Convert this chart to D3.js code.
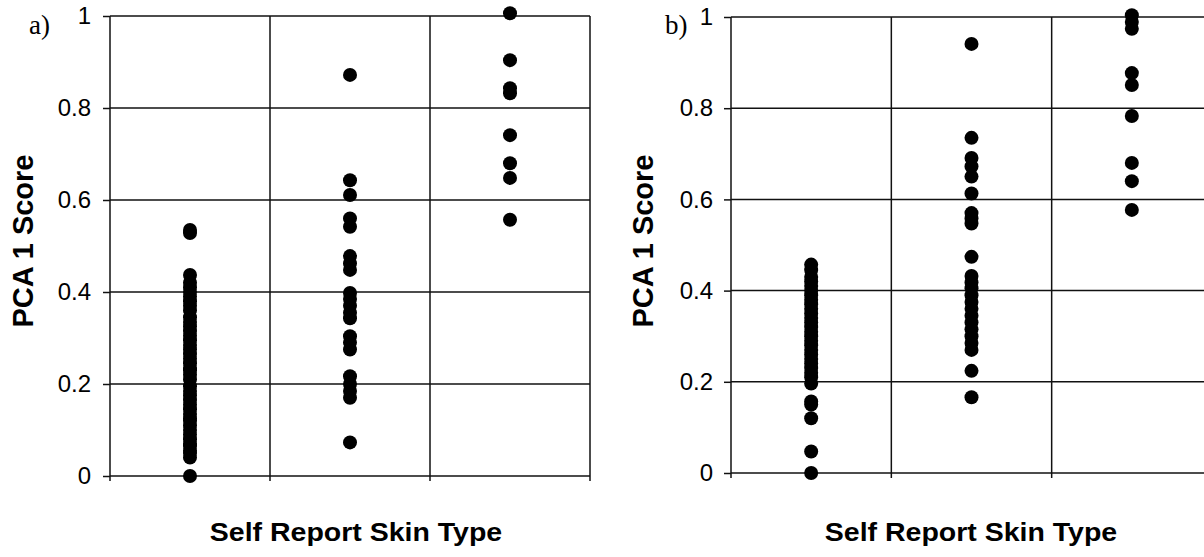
<!DOCTYPE html>
<html>
<head>
<meta charset="utf-8">
<script src="https://cdn.jsdelivr.net/npm/d3@7"></script>
<style>
  body { margin: 0; background: #fff; }
  svg { display: block; }
</style>
</head>
<body>
<div id="chart-container"></div>
<script>
// skin type categories (no labels drawn on the x axis)
const skinTypes = [1, 2, 3];
const yTicks = [0, 0.2, 0.4, 0.6, 0.8, 1];

// panel a) PCA 1 scores per self reported skin type
const scoresA1 = [0, 0.04, 0.05, 0.055, 0.065, 0.07, 0.08, 0.09, 0.1, 0.11, 0.12, 0.125, 0.135, 0.145,
    0.155, 0.165, 0.175, 0.185, 0.195, 0.21, 0.22, 0.23, 0.235, 0.245, 0.255, 0.265, 0.275, 0.285,
    0.295, 0.305, 0.315, 0.325, 0.335, 0.345, 0.36, 0.37, 0.38, 0.39, 0.4, 0.41, 0.42, 0.437, 0.528, 0.535];
const scoresA2 = [0.872, 0.643, 0.611, 0.56, 0.542, 0.478, 0.462, 0.448, 0.398, 0.385, 0.37, 0.355,
    0.343, 0.304, 0.29, 0.275, 0.217, 0.2, 0.185, 0.17, 0.073];
const scoresA3 = [1.006, 0.904, 0.843, 0.832, 0.741, 0.68, 0.648, 0.557];

// panel b)
const scoresB1 = [0.457, 0.445, 0.43, 0.42, 0.41, 0.4, 0.39, 0.38, 0.37, 0.36, 0.35, 0.34, 0.33, 0.32,
    0.31, 0.3, 0.29, 0.28, 0.27, 0.26, 0.25, 0.24, 0.23, 0.22, 0.21, 0.196, 0.157, 0.15, 0.12, 0.047, 0];
const scoresB2 = [0.941, 0.735, 0.691, 0.672, 0.65, 0.613, 0.57, 0.558, 0.547, 0.474, 0.432, 0.418,
    0.405, 0.39, 0.375, 0.36, 0.345, 0.33, 0.315, 0.3, 0.285, 0.27, 0.224, 0.166];
const scoresB3 = [1.004, 0.989, 0.974, 0.877, 0.851, 0.783, 0.68, 0.64, 0.577];

const svg = d3.select("#chart-container")
    .append("svg")
    .attr("width", 1204)
    .attr("height", 557);

function makePanel(p) {
    const x = d3.scaleBand().domain(skinTypes).range([p.left, p.right]).padding(0);
    const y = d3.scaleLinear().domain([0, 1]).range([p.bottom, p.top]);
    const g = svg.append("g");

    // horizontal grid
    g.selectAll(".hgrid")
        .data(yTicks)
        .enter()
        .append("line")
        .attr("x1", p.left)
        .attr("x2", p.right)
        .attr("y1", d => y(d))
        .attr("y2", d => y(d))
        .attr("stroke", "#111")
        .attr("stroke-width", 1.5);

    // vertical grid at category edges, running a bit below the 0 line
    const edges = skinTypes.map(d => x(d)).concat([p.right]);
    g.selectAll(".vgrid")
        .data(edges)
        .enter()
        .append("line")
        .attr("x1", d => d)
        .attr("x2", d => d)
        .attr("y1", p.top)
        .attr("y2", p.bottom + 5)
        .attr("stroke", "#111")
        .attr("stroke-width", 1.5);

    const yAxis = g.append("g")
        .attr("transform", "translate(" + p.left + ",0)")
        .call(d3.axisLeft(y).tickValues(yTicks).tickFormat(d3.format("")).tickSize(7).tickSizeOuter(0).tickPadding(p.pad));
    yAxis.select(".domain").remove();
    yAxis.selectAll("line").attr("stroke", "#111").attr("stroke-width", 1.5);
    yAxis.selectAll("text")
        .attr("font-family", "'Liberation Sans', Arial, sans-serif")
        .attr("font-size", 24)
        .attr("fill", "#000");

    const dots = [p.s1, p.s2, p.s3];
    skinTypes.forEach((t, i) => {
        g.selectAll(".dot" + i)
            .data(dots[i])
            .enter()
            .append("circle")
            .attr("cx", x(t) + x.bandwidth() / 2)
            .attr("cy", d => y(d))
            .attr("r", 7)
            .attr("fill", "#000");
    });

    g.append("text")
        .attr("transform", "translate(" + p.xTitleX + ",541) scale(1,0.92)")
        .attr("text-anchor", "middle")
        .attr("font-family", "'Liberation Sans', Arial, sans-serif")
        .attr("font-weight", "bold")
        .attr("font-size", 28.5)
        .text("Self Report Skin Type");

    g.append("text")
        .attr("transform", "translate(" + p.yTitleX + ",241) rotate(-90)")
        .attr("text-anchor", "middle")
        .attr("font-family", "'Liberation Sans', Arial, sans-serif")
        .attr("font-weight", "bold")
        .attr("font-size", 29)
        .text("PCA 1 Score");

    g.append("text")
        .attr("transform", "translate(" + p.labelX + ",34)")
        .attr("font-family", "'Liberation Serif', 'Times New Roman', serif")
        .attr("font-size", 27)
        .text(p.label);
}

makePanel({ left: 110, right: 590, top: 16, bottom: 476, pad: 12, s1: scoresA1, s2: scoresA2, s3: scoresA3,
    xTitleX: 356, yTitleX: 33, labelX: 29, label: "a)" });
makePanel({ left: 731, right: 1212, top: 17, bottom: 473, pad: 11, s1: scoresB1, s2: scoresB2, s3: scoresB3,
    xTitleX: 971, yTitleX: 653, labelX: 665, label: "b)" });
</script>
</body>
</html>
